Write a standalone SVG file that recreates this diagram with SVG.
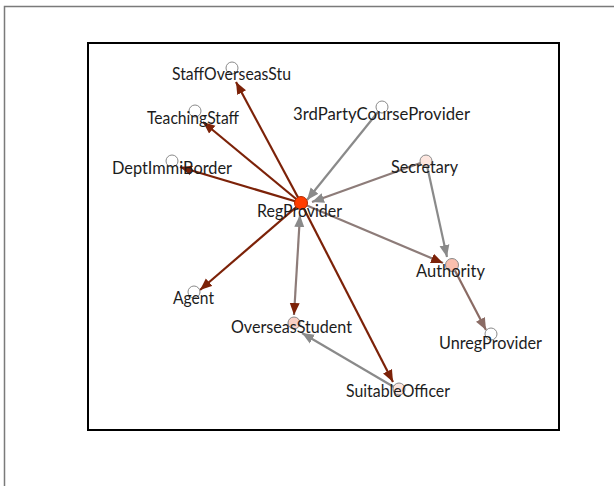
<svg xmlns="http://www.w3.org/2000/svg" width="614" height="486" viewBox="0 0 614 486">
<defs>
<style>
.lbl{font-family:"Lato","Noto Sans","DejaVu Sans",sans-serif;font-size:17.5px;fill:#1c1c1c}
.e{fill:none;stroke-width:2.2}
.red{stroke:#7c2208}
.gry{stroke:#8a8a8a}
.brg{stroke:#8d7c79}
.brn{stroke:#8a6b64}
.n{stroke:#8a8a8a;stroke-width:1}
</style>
<marker id="aRed" markerUnits="userSpaceOnUse" markerWidth="13" markerHeight="11" refX="12" refY="5" orient="auto-start-reverse" viewBox="0 0 13 10"><path d="M0,0 L12,5 L0,10 z" fill="#7c2208"/></marker>
<marker id="aGry" markerUnits="userSpaceOnUse" markerWidth="13" markerHeight="11" refX="12" refY="5" orient="auto-start-reverse" viewBox="0 0 13 10"><path d="M0,0 L12,5 L0,10 z" fill="#8a8a8a"/></marker>
<marker id="aBrg" markerUnits="userSpaceOnUse" markerWidth="13" markerHeight="11" refX="12" refY="5" orient="auto-start-reverse" viewBox="0 0 13 10"><path d="M0,0 L12,5 L0,10 z" fill="#8d7c79"/></marker>
<marker id="aBrn" markerUnits="userSpaceOnUse" markerWidth="13" markerHeight="11" refX="12" refY="5" orient="auto-start-reverse" viewBox="0 0 13 10"><path d="M0,0 L12,5 L0,10 z" fill="#8a6b64"/></marker>
</defs>
<rect width="614" height="486" fill="#fff"/>
<path d="M4.5,486 V6.5 H614" fill="none" stroke="#7a7a7a" stroke-width="1.5"/>
<rect x="88" y="43" width="471" height="387" fill="none" stroke="#000" stroke-width="2"/>
<g id="edges">
<line class="e red" x1="301" y1="203" x2="236" y2="82" marker-end="url(#aRed)"/>
<line class="e red" x1="301" y1="203" x2="203" y2="122" marker-end="url(#aRed)"/>
<line class="e red" x1="301" y1="203" x2="180" y2="167" marker-end="url(#aRed)"/>
<line class="e red" x1="301" y1="203" x2="200" y2="290" marker-end="url(#aRed)"/>
<line class="e red" x1="301" y1="203" x2="393" y2="382" marker-end="url(#aRed)"/>
<line class="e brg" x1="300" y1="215" x2="294" y2="315" marker-start="url(#aGry)" marker-end="url(#aRed)"/>
<line class="e brg" x1="301" y1="203" x2="443" y2="263" marker-end="url(#aRed)"/>
<line class="e gry" x1="382" y1="107" x2="307" y2="200" marker-end="url(#aGry)"/>
<line class="e brg" x1="426" y1="161" x2="312" y2="202" marker-end="url(#aGry)"/>
<line class="e gry" x1="426" y1="161" x2="447" y2="257" marker-end="url(#aGry)"/>
<line class="e brn" x1="452" y1="265" x2="486" y2="330" marker-end="url(#aBrn)"/>
<line class="e gry" x1="399" y1="390" x2="302" y2="333" marker-end="url(#aGry)"/>
</g>
<g id="StaffOverseasStu"><circle class="n" cx="232" cy="68" r="6" fill="#fff"/><text class="lbl" x="172" y="80" textLength="119" lengthAdjust="spacingAndGlyphs">StaffOverseasStu</text></g>
<g id="TeachingStaff"><circle class="n" cx="195" cy="111" r="6" fill="#fff"/><text class="lbl" x="147" y="124" textLength="92" lengthAdjust="spacingAndGlyphs">TeachingStaff</text></g>
<g id="DeptImmiBorder"><circle class="n" cx="172" cy="161" r="6" fill="#fff"/><text class="lbl" x="112" y="174" textLength="120" lengthAdjust="spacingAndGlyphs">DeptImmiBorder</text></g>
<g id="ThirdPartyCourseProvider"><circle class="n" cx="382" cy="107" r="6" fill="#fff"/><text class="lbl" x="293" y="120" textLength="177" lengthAdjust="spacingAndGlyphs">3rdPartyCourseProvider</text></g>
<g id="Secretary"><circle class="n" cx="426" cy="161" r="6" fill="#fde6df"/><text class="lbl" x="391" y="173" textLength="67" lengthAdjust="spacingAndGlyphs">Secretary</text></g>
<g id="RegProvider"><circle cx="301" cy="203" r="6.5" fill="#ff3d00" stroke="#b02a00" stroke-width="1"/><text class="lbl" x="257" y="217" textLength="85" lengthAdjust="spacingAndGlyphs">RegProvider</text></g>
<g id="Authority"><circle class="n" cx="452" cy="265" r="6.5" fill="#f9bfae"/><text class="lbl" x="416" y="277" textLength="69" lengthAdjust="spacingAndGlyphs">Authority</text></g>
<g id="Agent"><circle class="n" cx="194" cy="292" r="6" fill="#fff"/><text class="lbl" x="173" y="304" textLength="41" lengthAdjust="spacingAndGlyphs">Agent</text></g>
<g id="OverseasStudent"><circle class="n" cx="294" cy="323" r="6" fill="#f9cfc4"/><text class="lbl" x="231" y="333" textLength="121" lengthAdjust="spacingAndGlyphs">OverseasStudent</text></g>
<g id="UnregProvider"><circle class="n" cx="491" cy="334" r="6" fill="#fff"/><text class="lbl" x="439" y="349" textLength="103" lengthAdjust="spacingAndGlyphs">UnregProvider</text></g>
<g id="SuitableOfficer"><circle class="n" cx="399" cy="389" r="6" fill="#fde6df"/><text class="lbl" x="346" y="397" textLength="104" lengthAdjust="spacingAndGlyphs">SuitableOfficer</text></g>
</svg>
